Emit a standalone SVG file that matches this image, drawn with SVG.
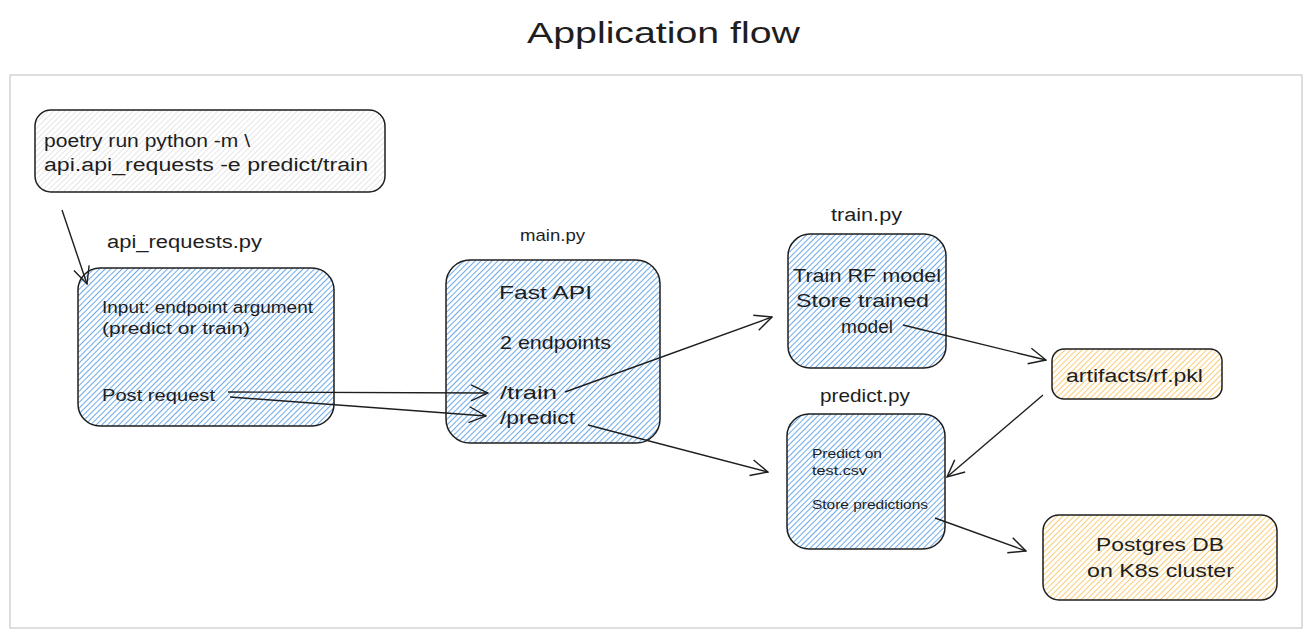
<svg xmlns="http://www.w3.org/2000/svg" width="1313" height="638" viewBox="0 0 1313 638">
<defs>
<pattern id="hb" width="4" height="4" patternUnits="userSpaceOnUse" patternTransform="rotate(45)"><rect width="4" height="4" fill="#fff"/><line x1="0" y1="0" x2="0" y2="4" stroke="#3a8ee6" stroke-width="1.5"/></pattern>
<pattern id="ho" width="4" height="4" patternUnits="userSpaceOnUse" patternTransform="rotate(45)"><rect width="4" height="4" fill="#fff"/><line x1="0" y1="0" x2="0" y2="4" stroke="#f5b83d" stroke-width="1.4"/></pattern>
<pattern id="hg" width="4" height="4" patternUnits="userSpaceOnUse" patternTransform="rotate(45)"><rect width="4" height="4" fill="#fff"/><line x1="0" y1="0" x2="0" y2="4" stroke="#cdcdcd" stroke-width="1"/></pattern>
<marker id="ar" viewBox="0 0 20 20" refX="19" refY="10" markerWidth="20" markerHeight="20" markerUnits="userSpaceOnUse" orient="auto"><path d="M2 2 L19 10 L2 18" fill="none" stroke="#1e1e1e" stroke-width="1.4"/></marker>
</defs>
<style>
.t{font-family:"Liberation Sans",Arial,sans-serif;fill:#1e1e1e}
.box{stroke:#1e1e1e;stroke-width:1.5}
.c{fill:none;stroke:#1e1e1e;stroke-width:1.4}
</style>
<rect x="10" y="75" width="1292" height="553" fill="none" stroke="#bdbdbd" stroke-width="1"/>
<text class="t" x="527" y="43" font-size="30" textLength="273" lengthAdjust="spacingAndGlyphs">Application flow</text>

<g id="cmd">
<rect class="box" x="35" y="110" width="350" height="82" rx="16" fill="url(#hg)"/>
<text class="t" x="44" y="147" font-size="18" textLength="206" lengthAdjust="spacingAndGlyphs">poetry run python -m \</text>
<text class="t" x="44" y="171" font-size="18" textLength="324" lengthAdjust="spacingAndGlyphs">api.api_requests -e predict/train</text>
</g>

<g id="api_requests">
<text class="t" x="107" y="248" font-size="18" textLength="155" lengthAdjust="spacingAndGlyphs">api_requests.py</text>
<rect class="box" x="78" y="268" width="256" height="158" rx="22" fill="url(#hb)"/>
<text class="t" x="102" y="313" font-size="16" textLength="211" lengthAdjust="spacingAndGlyphs">Input: endpoint argument</text>
<text class="t" x="102" y="334" font-size="16" textLength="148" lengthAdjust="spacingAndGlyphs">(predict or train)</text>
<text class="t" x="102" y="401" font-size="17" textLength="113" lengthAdjust="spacingAndGlyphs">Post request</text>
</g>

<g id="main">
<text class="t" x="520" y="241" font-size="17" textLength="65" lengthAdjust="spacingAndGlyphs">main.py</text>
<rect class="box" x="446" y="260" width="214" height="183" rx="24" fill="url(#hb)"/>
<text class="t" x="499" y="299" font-size="19" textLength="93" lengthAdjust="spacingAndGlyphs">Fast API</text>
<text class="t" x="500" y="349" font-size="19" textLength="111" lengthAdjust="spacingAndGlyphs">2 endpoints</text>
<text class="t" x="500" y="399" font-size="19" textLength="57" lengthAdjust="spacingAndGlyphs">/train</text>
<text class="t" x="500" y="424" font-size="19" textLength="75" lengthAdjust="spacingAndGlyphs">/predict</text>
</g>

<g id="train">
<text class="t" x="831" y="221" font-size="18" textLength="71" lengthAdjust="spacingAndGlyphs">train.py</text>
<rect class="box" x="788" y="234" width="158" height="134" rx="22" fill="url(#hb)"/>
<text class="t" x="793" y="282" font-size="19" textLength="148" lengthAdjust="spacingAndGlyphs">Train RF model</text>
<text class="t" x="796" y="307" font-size="19" textLength="133" lengthAdjust="spacingAndGlyphs">Store trained</text>
<text class="t" x="841" y="333" font-size="19" textLength="52" lengthAdjust="spacingAndGlyphs">model</text>
</g>

<g id="artifacts">
<rect class="box" x="1052" y="349" width="170" height="50" rx="12" fill="url(#ho)"/>
<text class="t" x="1066" y="382" font-size="18" textLength="137" lengthAdjust="spacingAndGlyphs">artifacts/rf.pkl</text>
</g>

<g id="predict">
<text class="t" x="820" y="402" font-size="19" textLength="90" lengthAdjust="spacingAndGlyphs">predict.py</text>
<rect class="box" x="787" y="414" width="158" height="135" rx="22" fill="url(#hb)"/>
<text class="t" x="812" y="458" font-size="13" textLength="70" lengthAdjust="spacingAndGlyphs">Predict on</text>
<text class="t" x="812" y="475" font-size="13" textLength="55" lengthAdjust="spacingAndGlyphs">test.csv</text>
<text class="t" x="812" y="509" font-size="13" textLength="116" lengthAdjust="spacingAndGlyphs">Store predictions</text>
</g>

<g id="postgres">
<rect class="box" x="1043" y="515" width="234" height="85" rx="16" fill="url(#ho)"/>
<text class="t" x="1096" y="551" font-size="19" textLength="128" lengthAdjust="spacingAndGlyphs">Postgres DB</text>
<text class="t" x="1087" y="577" font-size="19" textLength="147" lengthAdjust="spacingAndGlyphs">on K8s cluster</text>
</g>

<g id="connectors">
<path class="c" d="M62 210 L87 284" marker-end="url(#ar)"/>
<path class="c" d="M228 392 L488 393" marker-end="url(#ar)"/>
<path class="c" d="M230 397 L486 416" marker-end="url(#ar)"/>
<path class="c" d="M565 392 L772 317" marker-end="url(#ar)"/>
<path class="c" d="M588 425 L768 472" marker-end="url(#ar)"/>
<path class="c" d="M903 325 L1046 360" marker-end="url(#ar)"/>
<path class="c" d="M1043 395 L947 477" marker-end="url(#ar)"/>
<path class="c" d="M935 518 L1026 551" marker-end="url(#ar)"/>
</g>
</svg>
